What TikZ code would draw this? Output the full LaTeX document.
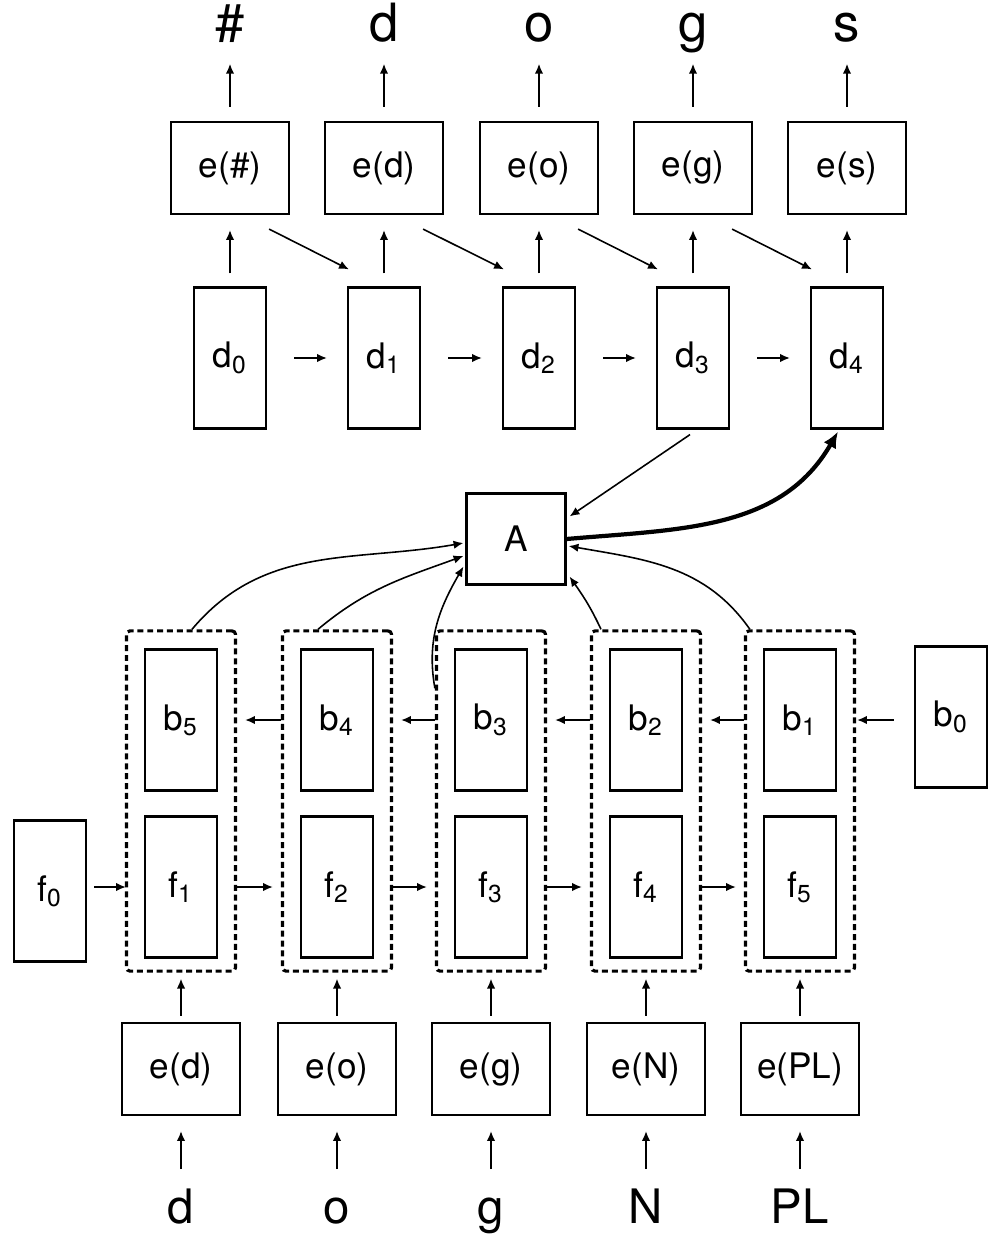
\documentclass[tikz,border=0pt]{standalone}
\usepackage{fontspec}
\setmainfont{TeX Gyre Heros}
\usetikzlibrary{arrows.meta,calc}

\begin{document}
\begin{tikzpicture}[
	x=0.01cm, y=-0.01cm, line width=0.45pt,
	>={Latex[length=2.8pt,width=2.4pt]},
	ebox/.style={ draw, line width=0.6pt, minimum width=1.18cm, minimum height=0.92cm, inner sep=0pt, font=\fontsize{10}{12}\selectfont },
	dbox/.style={ draw, line width=0.6pt, minimum width=0.72cm, minimum height=1.41cm, inner sep=0pt, font=\fontsize{10}{12}\selectfont },
	abox/.style={ draw, line width=0.6pt, minimum width=0.99cm, minimum height=0.91cm, inner sep=0pt, font=\fontsize{10}{12}\selectfont },
	wrap/.style={ draw, line width=0.9pt, dash pattern=on 1.7pt off 1.1pt, rounded corners=1pt, minimum width=1.09cm, minimum height=3.40cm, inner sep=0pt },
	outsym/.style={ inner sep=0pt, text depth=0pt, anchor=base, font=\fontsize{15}{18}\selectfont },
	insym/.style={ inner sep=0pt, text height=0.35cm, text depth=0pt, anchor=base, font=\fontsize{13.5}{16}\selectfont },
	heavy/.style={ -{Latex[length=4.6pt,width=4pt]}, line width=1.2pt }
]
	\useasboundingbox (0,0) rectangle (1000,1246);

	\node at (230,42) (o1) [outsym] {\#};
	\node at (384,42) (o2) [outsym] {d};
	\node at (539,42) (o3) [outsym] {o};
	\node at (693,42) (o4) [outsym] {g};
	\node at (847,42) (o5) [outsym] {s};

	\node at (230,168) (eo1) [ebox] {e(\#)};
	\node at (384,168) (eo2) [ebox] {e(d)};
	\node at (539,168) (eo3) [ebox] {e(o)};
	\node at (693,168) (eo4) [ebox] {e(g)};
	\node at (847,168) (eo5) [ebox] {e(s)};

	\node at (230,358) (d0) [dbox] {d\textsubscript{0}};
	\node at (384,358) (d1) [dbox] {d\textsubscript{1}};
	\node at (539,358) (d2) [dbox] {d\textsubscript{2}};
	\node at (693,358) (d3) [dbox] {d\textsubscript{3}};
	\node at (847,358) (d4) [dbox] {d\textsubscript{4}};

	\node at (516,539) (A) [abox] {A};

	\node at (181,801) (c1) [wrap] {};
	\node at (337,801) (c2) [wrap] {};
	\node at (491,801) (c3) [wrap] {};
	\node at (646,801) (c4) [wrap] {};
	\node at (800,801) (c5) [wrap] {};

	\node at (181,720) (b5) [dbox] {b\textsubscript{5}};
	\node at (337,720) (b4) [dbox] {b\textsubscript{4}};
	\node at (491,720) (b3) [dbox] {b\textsubscript{3}};
	\node at (646,720) (b2) [dbox] {b\textsubscript{2}};
	\node at (800,720) (b1) [dbox] {b\textsubscript{1}};
	\node at (951,717) (b0) [dbox] {b\textsubscript{0}};

	\node at (50,891) (f0) [dbox] {f\textsubscript{0}};
	\node at (181,887) (f1) [dbox] {f\textsubscript{1}};
	\node at (337,887) (f2) [dbox] {f\textsubscript{2}};
	\node at (491,887) (f3) [dbox] {f\textsubscript{3}};
	\node at (646,887) (f4) [dbox] {f\textsubscript{4}};
	\node at (800,887) (f5) [dbox] {f\textsubscript{5}};

	\node at (181,1069) (ei1) [ebox] {e(d)};
	\node at (337,1069) (ei2) [ebox] {e(o)};
	\node at (491,1069) (ei3) [ebox] {e(g)};
	\node at (646,1069) (ei4) [ebox] {e(N)};
	\node at (800,1069) (ei5) [ebox] {e(PL)};

	\node at (181,1223) (w1) [insym] {d};
	\node at (337,1223) (w2) [insym] {o};
	\node at (491,1223) (w3) [insym] {g};
	\node at (646,1223) (w4) [insym] {N};
	\node at (800,1223) (w5) [insym] {PL};

	\draw[->, shorten <=0.14cm, shorten >=0.21cm] (eo1) -- (o1);
	\draw[->, shorten <=0.14cm, shorten >=0.21cm] (eo2) -- (o2);
	\draw[->, shorten <=0.14cm, shorten >=0.21cm] (eo3) -- (o3);
	\draw[->, shorten <=0.14cm, shorten >=0.21cm] (eo4) -- (o4);
	\draw[->, shorten <=0.14cm, shorten >=0.21cm] (eo5) -- (o5);

	\draw[->, shorten <=0.13cm, shorten >=0.15cm] (d0) -- (eo1);
	\draw[->, shorten <=0.13cm, shorten >=0.15cm] (d1) -- (eo2);
	\draw[->, shorten <=0.13cm, shorten >=0.15cm] (d2) -- (eo3);
	\draw[->, shorten <=0.13cm, shorten >=0.15cm] (d3) -- (eo4);
	\draw[->, shorten <=0.13cm, shorten >=0.15cm] (d4) -- (eo5);

	\draw[->] ($(eo1.south east)+(-21,14)$) -- ($(d1.north west)+(2,-17)$);
	\draw[->] ($(eo2.south east)+(-21,14)$) -- ($(d2.north west)+(2,-17)$);
	\draw[->] ($(eo3.south east)+(-21,14)$) -- ($(d3.north west)+(2,-17)$);
	\draw[->] ($(eo4.south east)+(-21,14)$) -- ($(d4.north west)+(2,-17)$);

	\draw[->, shorten <=0.27cm, shorten >=0.2cm] (d0) -- (d1);
	\draw[->, shorten <=0.27cm, shorten >=0.2cm] (d1) -- (d2);
	\draw[->, shorten <=0.27cm, shorten >=0.2cm] (d2) -- (d3);
	\draw[->, shorten <=0.27cm, shorten >=0.2cm] (d3) -- (d4);

	\draw[->] ($(d3.south)+(-3,5)$) -- ($(A.north east)+(3,24)$);
	\draw[heavy] (A.east) to [out=5,in=-120] ($(d4.south)+(-9,2)$);

	\draw[->] ($(c1.north)+(11,0)$) to [out=50,in=190] ($(A.west)+(-2,4)$);
	\draw[->] ($(c2.north)+(-19,0)$) to [out=40,in=200] ($(A.west)+(-2,17)$);
	\draw[->] ($(c3.north west)+(0,59)$) to [out=100,in=240] ($(A.south west)+(-2,-19)$);
	\draw[->] ($(c4.north)+(-45,0)$) to [out=115,in=-55] ($(A.south east)+(3,-9)$);
	\draw[->] ($(c5.north west)+(6,0)$) to [out=125,in=-10] ($(A.east)+(2,7)$);

	\draw[->] ($(b1 -| b0.west)+(-20,0)$) -- ($(b1 -| c5.east)+(1,0)$);
	\draw[->] (b1 -| c5.west) -- ($(b2 -| c4.east)+(8,0)$);
	\draw[->] (b2 -| c4.west) -- ($(b3 -| c3.east)+(8,0)$);
	\draw[->] (b3 -| c3.west) -- ($(b4 -| c2.east)+(8,0)$);
	\draw[->] (b4 -| c2.west) -- ($(b5 -| c1.east)+(8,0)$);

	\draw[->] ($(f1 -| f0.east)+(7,0)$) -- ($(f1 -| c1.west)+(1,0)$);
	\draw[->] (f1 -| c1.east) -- ($(f2 -| c2.west)+(-8,0)$);
	\draw[->] (f2 -| c2.east) -- ($(f3 -| c3.west)+(-8,0)$);
	\draw[->] (f3 -| c3.east) -- ($(f4 -| c4.west)+(-8,0)$);
	\draw[->] (f4 -| c4.east) -- ($(f5 -| c5.west)+(-8,0)$);

	\draw[->, shorten <=0.06cm, shorten >=0.06cm] (ei1) -- (c1);
	\draw[->, shorten <=0.06cm, shorten >=0.06cm] (ei2) -- (c2);
	\draw[->, shorten <=0.06cm, shorten >=0.06cm] (ei3) -- (c3);
	\draw[->, shorten <=0.06cm, shorten >=0.06cm] (ei4) -- (c4);
	\draw[->, shorten <=0.06cm, shorten >=0.06cm] (ei5) -- (c5);

	\draw[->, shorten <=0.18cm, shorten >=0.15cm] (w1) -- (ei1);
	\draw[->, shorten <=0.18cm, shorten >=0.15cm] (w2) -- (ei2);
	\draw[->, shorten <=0.18cm, shorten >=0.15cm] (w3) -- (ei3);
	\draw[->, shorten <=0.18cm, shorten >=0.15cm] (w4) -- (ei4);
	\draw[->, shorten <=0.18cm, shorten >=0.15cm] (w5) -- (ei5);
\end{tikzpicture}
\end{document}
